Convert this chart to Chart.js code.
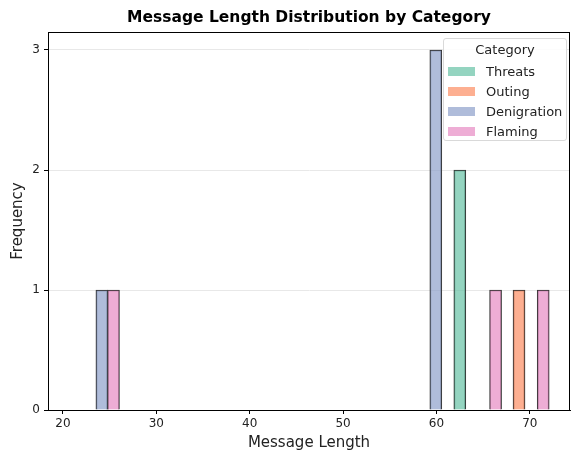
<!DOCTYPE html>
<html>
<head>
<meta charset="utf-8">
<script src="https://cdn.jsdelivr.net/npm/chart.js@4"></script>
<style>
  html, body { margin: 0; padding: 0; background: #fff; }
  #wrap { position: relative; width: 571px; height: 459px; }
  #legend {
    position: absolute; left: 443px; top: 38px; width: 122px; height: 101px;
    border: 1px solid #d9d9d9; border-radius: 3px; background: rgba(255,255,255,0.85);
    font-family: "DejaVu Sans", sans-serif; font-size: 13px; color: #222;
  }
  #legend .ttl { text-align: center; margin-top: 2px; height: 20px; line-height: 18px; }
  #legend .row { display: flex; align-items: center; height: 20px; }
  #legend .sw { width: 27px; height: 9px; margin-left: 4px; margin-right: 11px; }
</style>
</head>
<body>
<div id="wrap">
  <canvas id="chart" width="571" height="459"></canvas>
  <div id="legend"></div>
</div>
<script>
const categories = ["Threats", "Outing", "Denigration", "Flaming"];
const colors = ["rgba(102,194,165,0.7)", "rgba(252,141,98,0.7)", "rgba(141,160,203,0.7)", "rgba(231,138,195,0.7)"];

// bar centres (message length) and counts for each category
const threatsX = [62.5];
const threatsY = [2];
const outingX = [68.84];
const outingY = [1];
const denigrationX = [24.17, 59.93];
const denigrationY = [1, 3];
const flamingX = [25.41, 66.33, 71.43];
const flamingY = [1, 1, 1];

const xTicks = [20, 30, 40, 50, 60, 70];
const yTicks = [0, 1, 2, 3];

const pts = (xs, ys) => xs.map((x, i) => ({ x: x, y: ys[i] }));
const series = [pts(threatsX, threatsY), pts(outingX, outingY), pts(denigrationX, denigrationY), pts(flamingX, flamingY)];

const font = "'DejaVu Sans', sans-serif";

const framePlugin = {
  id: "frame",
  afterDraw(chart) {
    const { ctx, chartArea: a } = chart;
    ctx.save();
    ctx.strokeStyle = "#000";
    ctx.lineWidth = 1;
    ctx.strokeRect(a.left + 0.5, a.top + 0.5, a.right - a.left - 1, a.bottom - a.top);
    ctx.fillStyle = "#000";
    ctx.font = "bold 15.5px " + font;
    ctx.textAlign = "center";
    ctx.textBaseline = "middle";
    ctx.fillText("Message Length Distribution by Category", (a.left + a.right) / 2, 18);
    ctx.restore();
  }
};

new Chart(document.getElementById("chart"), {
  type: "bar",
  data: {
    datasets: categories.map((c, i) => ({
      label: c, data: series[i], backgroundColor: colors[i],
      borderColor: "#333", borderWidth: 1, barThickness: 12, grouped: false
    }))
  },
  options: {
    responsive: false, animation: false,
    layout: { padding: { top: 32, right: 1, left: 0, bottom: 0 } },
    plugins: { legend: { display: false }, tooltip: { enabled: false } },
    scales: {
      x: {
        type: "linear", min: 18.4, max: 74.3, offset: false,
        afterBuildTicks: s => { s.ticks = xTicks.map(v => ({ value: v })); },
        afterFit: s => { s.height = 49; },
        grid: { offset: false, drawOnChartArea: false, tickLength: 4, tickColor: "#000" },
        border: { color: "#000" },
        ticks: { color: "#222", font: { family: font, size: 12 }, padding: 3, maxRotation: 0 },
        title: { display: true, text: "Message Length", color: "#222", font: { family: font, size: 15 }, padding: { top: 0, bottom: 7 } }
      },
      y: {
        min: 0, max: 3.15,
        afterBuildTicks: s => { s.ticks = yTicks.map(v => ({ value: v })); },
        afterFit: s => { s.width = 48; },
        grid: { color: "#e8e8e8", tickLength: 4, tickColor: "#000" },
        border: { color: "#000" },
        ticks: { color: "#222", font: { family: font, size: 12 }, padding: 4 },
        title: { display: true, text: "Frequency", color: "#222", font: { family: font, size: 15 }, padding: { top: 9, bottom: 0 } }
      }
    }
  },
  plugins: [framePlugin]
});

const lg = document.getElementById("legend");
lg.innerHTML = '<div class="ttl">Category</div>' + categories.map((c, i) =>
  '<div class="row"><span class="sw" style="background:' + colors[i] + '"></span>' + c + '</div>').join("");
</script>
</body>
</html>
